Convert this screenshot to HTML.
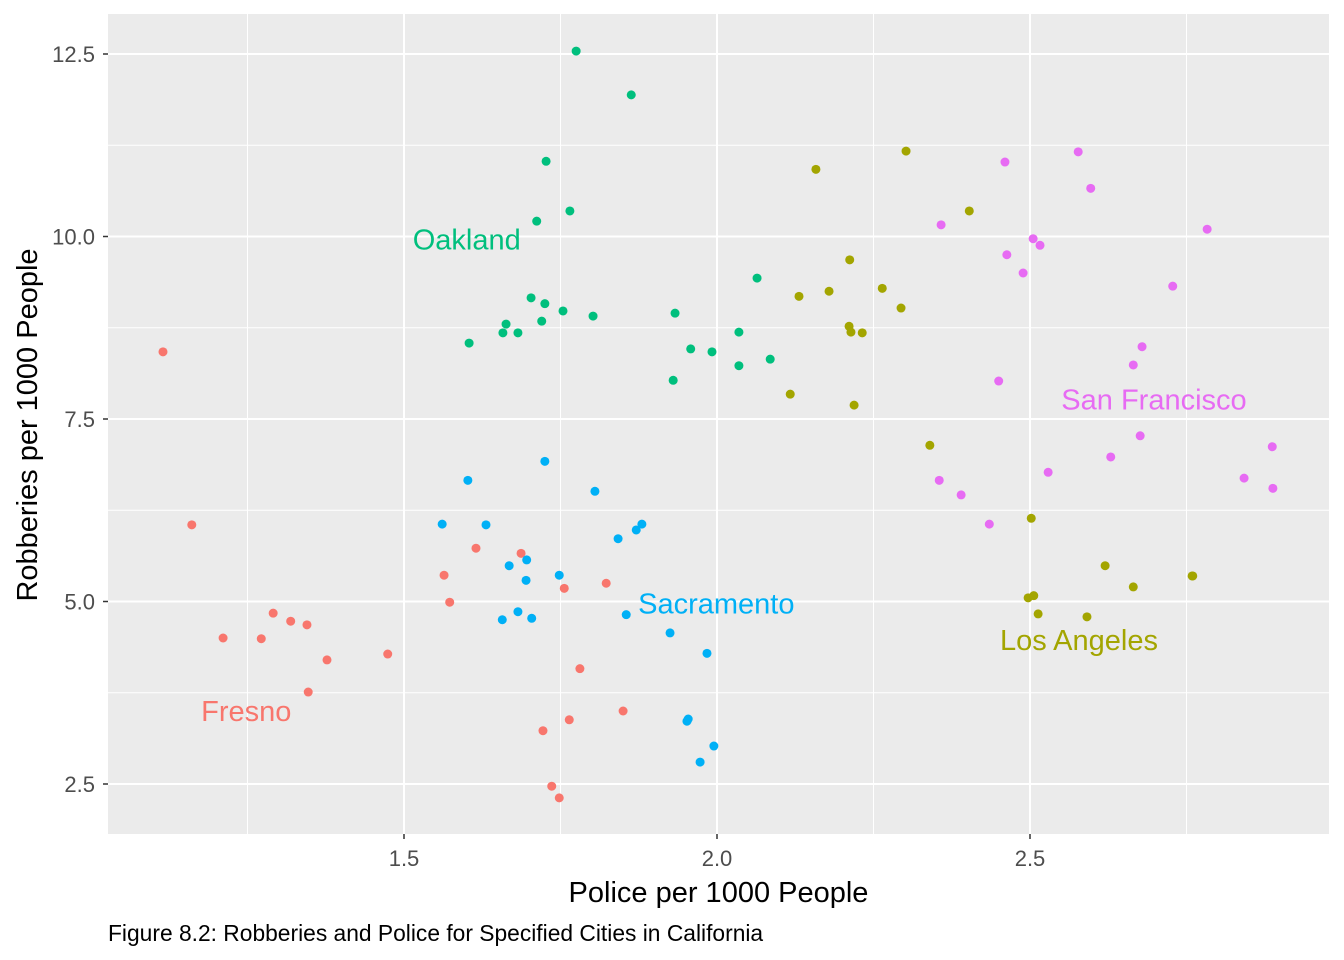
<!DOCTYPE html>
<html><head><meta charset="utf-8">
<style>
html,body{margin:0;padding:0;background:#fff;}
svg{display:block;font-family:"Liberation Sans",Arial,sans-serif;}
</style></head>
<body>
<svg id="chart" width="1344" height="960" viewBox="0 0 1344 960"></svg>
<script>
const cities = ["Fresno","Los Angeles","Oakland","Sacramento","San Francisco"];
const colors = ["#F8766D","#A3A500","#00BF7D","#00B0F6","#E76BF3"];
const fresnoX = [1.115,1.161,1.211,1.272,1.291,1.319,1.345,1.377,1.347,1.474,1.564,1.573,1.615,1.687,1.756,1.823,1.781,1.85,1.764,1.722,1.736,1.748];
const fresnoY = [8.42,6.05,4.50,4.49,4.84,4.73,4.68,4.20,3.76,4.28,5.36,4.99,5.73,5.66,5.18,5.25,4.08,3.50,3.38,3.23,2.47,2.31];
const sacX = [1.725,1.602,1.561,1.631,1.805,1.668,1.696,1.695,1.748,1.842,1.871,1.880,1.657,1.682,1.704,1.855,1.925,1.984,1.954,1.952,1.995,1.973];
const sacY = [6.92,6.66,6.06,6.05,6.51,5.49,5.57,5.29,5.36,5.86,5.98,6.06,4.75,4.86,4.77,4.82,4.57,4.29,3.39,3.36,3.02,2.80];
const oakX = [1.775,1.863,1.727,1.765,1.712,1.604,1.663,1.658,1.682,1.703,1.725,1.720,1.754,1.802,1.933,1.958,1.992,1.930,2.064,2.035,2.035,2.085];
const oakY = [12.54,11.94,11.03,10.35,10.21,8.54,8.80,8.68,8.68,9.16,9.08,8.84,8.98,8.91,8.95,8.46,8.42,8.03,9.43,8.69,8.23,8.32];
const laX = [2.302,2.158,2.403,2.212,2.264,2.179,2.131,2.294,2.211,2.214,2.232,2.117,2.219,2.340,2.502,2.497,2.506,2.513,2.591,2.620,2.665,2.759,2.760];
const laY = [11.17,10.92,10.35,9.68,9.29,9.25,9.18,9.02,8.77,8.69,8.68,7.84,7.69,7.14,6.14,5.05,5.08,4.83,4.79,5.49,5.20,5.35,5.35];
const sfX = [2.577,2.460,2.597,2.358,2.783,2.505,2.516,2.463,2.489,2.728,2.679,2.665,2.450,2.676,2.629,2.529,2.887,2.355,2.842,2.390,2.888,2.435];
const sfY = [11.16,11.02,10.66,10.16,10.10,9.97,9.88,9.75,9.50,9.32,8.49,8.24,8.02,7.27,6.98,6.77,7.12,6.66,6.69,6.46,6.55,6.06];
const labelX = [1.176,2.452,1.514,1.874,2.550];
const labelY = [3.50,4.47,9.96,4.97,7.77];
const xTicks = [1.5,2.0,2.5];
const xTickLabels = ["1.5","2.0","2.5"];
const xMinor = [1.25,1.75,2.25,2.75];
const yTicks = [2.5,5.0,7.5,10.0,12.5];
const yTickLabels = ["2.5","5.0","7.5","10.0","12.5"];
const yMinor = [3.75,6.25,8.75,11.25];

const P={l:108,r:1329,t:14,b:834};
const sx=v=>404+(v-1.5)*626;
const sy=v=>784-(v-2.5)*73;
const NS="http://www.w3.org/2000/svg";
const svg=document.getElementById('chart');
function mk(tag,attrs,parent){const e=document.createElementNS(NS,tag);for(const k in attrs)e.setAttribute(k,attrs[k]);(parent||svg).appendChild(e);return e;}

const bg=mk('rect',{x:P.l,y:P.t,width:P.r-P.l,height:P.b-P.t,fill:'#EBEBEB'});


xMinor.forEach(v=>{const l=mk('line',{x1:sx(v),x2:sx(v),y1:P.t,y2:P.b,stroke:'#fff','stroke-width':1});

});
yMinor.forEach(v=>{const l=mk('line',{x1:P.l,x2:P.r,y1:sy(v),y2:sy(v),stroke:'#fff','stroke-width':1});

});
xTicks.forEach((v,i)=>{const l=mk('line',{x1:sx(v),x2:sx(v),y1:P.t,y2:P.b,stroke:'#fff','stroke-width':2});


const t=mk('line',{x1:sx(v),x2:sx(v),y1:P.b,y2:P.b+5,stroke:'#333','stroke-width':1.5});


const tx=mk('text',{x:sx(v),y:P.b+32,'text-anchor':'middle','font-size':22,fill:'#4D4D4D'});tx.textContent=xTickLabels[i];

});
yTicks.forEach((v,i)=>{const l=mk('line',{x1:P.l,x2:P.r,y1:sy(v),y2:sy(v),stroke:'#fff','stroke-width':2});


const t=mk('line',{x1:P.l-5,x2:P.l,y1:sy(v),y2:sy(v),stroke:'#333','stroke-width':1.5});


const tx=mk('text',{x:P.l-13,y:sy(v)+8,'text-anchor':'end','font-size':22,fill:'#4D4D4D'});tx.textContent=yTickLabels[i];

});

const series=[[fresnoX,fresnoY],[laX,laY],[oakX,oakY],[sacX,sacY],[sfX,sfY]];
series.forEach((s,k)=>{s[0].forEach((x,i)=>{const c=mk('circle',{cx:sx(x),cy:sy(s[1][i]),r:4.5,fill:colors[k]});

});});
cities.forEach((c,k)=>{const t=mk('text',{x:sx(labelX[k]),y:sy(labelY[k])+10,'text-anchor':'start','font-size':29,fill:colors[k]});t.textContent=c;

});

const xt=mk('text',{x:(P.l+P.r)/2,y:902,'text-anchor':'middle','font-size':29,fill:'#000'});xt.textContent='Police per 1000 People';


const yt=mk('text',{x:0,y:0,'text-anchor':'middle','font-size':29,fill:'#000',transform:'translate(37,'+((P.t+P.b)/2+1)+') rotate(-90)'});yt.textContent='Robberies per 1000 People';


const cap=mk('text',{x:108,y:941,'font-size':22.8,fill:'#000'});cap.textContent='Figure 8.2: Robberies and Police for Specified Cities in California';


</script>
</body></html>
